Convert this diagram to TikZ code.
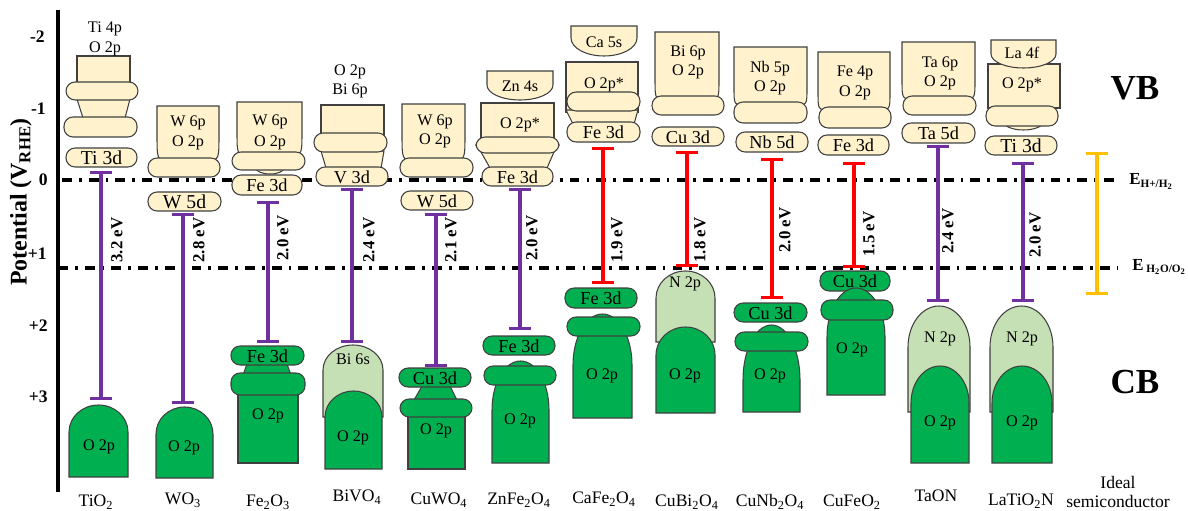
\documentclass[tikz,border=0pt]{standalone}
\usepackage{fontspec}
\setmainfont{Liberation Serif}
\usetikzlibrary{arrows.meta}

\definecolor{vbfill}{RGB}{255,242,204}
\definecolor{cbfill}{RGB}{0,176,80}
\definecolor{cblight}{RGB}{197,224,180}
\definecolor{bandline}{RGB}{64,64,64}
\definecolor{gapviolet}{RGB}{112,48,160}
\definecolor{gapred}{RGB}{255,0,0}
\definecolor{gapgold}{RGB}{255,192,0}

% style, x1, x2, ytop, yside, ybot, inset
\newcommand{\bandcup}[7]{\draw[#1] (#2,#4) -- (#3,#4) -- (#3,#5) .. controls (#3,#6) .. ({#3-#7},#6) -- ({#2+#7},#6) .. controls (#2,#6) .. (#2,#5) -- cycle;}
% style, x1, x2, ytop, yside, ybot
\newcommand{\bandbowl}[6]{\draw[#1] (#2,#4) -- (#3,#4) -- (#3,#5) .. controls (#3,{#5+0.552*(#6-#5)}) and ({(#2+#3)/2+0.276*(#3-#2)},#6) .. ({(#2+#3)/2},#6) .. controls ({(#2+#3)/2-0.276*(#3-#2)},#6) and (#2,{#5+0.552*(#6-#5)}) .. (#2,#5) -- cycle;}
% style, x1, x2, yapex, yside, ybot
\newcommand{\banddome}[6]{\draw[#1] (#2,#6) -- (#2,#5) .. controls (#2,{#5-0.552*(#5-#4)}) and ({(#2+#3)/2-0.276*(#3-#2)},#4) .. ({(#2+#3)/2},#4) .. controls ({(#2+#3)/2+0.276*(#3-#2)},#4) and (#3,{#5-0.552*(#5-#4)}) .. (#3,#5) -- (#3,#6) -- cycle;}

\begin{document}
\begin{tikzpicture}[x=0.025cm,y=-0.025cm,
    band/.style={draw=bandline, line width=0.75pt},
    vb/.style={band, fill=vbfill},
    cb/.style={band, fill=cbfill},
    cbl/.style={band, fill=cblight},
    pill/.style={rounded corners=6.5pt},
    lbl/.style={inner sep=0pt, font=\fontsize{11.5}{12}\selectfont},
    dlbl/.style={inner sep=0pt, font=\fontsize{13}{14}\selectfont},
    level/.style={line width=2.6pt, dash pattern=on 7pt off 5pt on 2pt off 5pt},
    gapbar/.style={line width=2.4pt, arrows={Bar[width=15pt]-Bar[width=15pt]}},
    egap/.style={inner sep=0pt, rotate=90, font=\bfseries\fontsize{12}{12}\selectfont},
    tick/.style={anchor=east, inner sep=0pt, font=\bfseries\fontsize{12.5}{12}\selectfont},
    mat/.style={inner sep=0pt, font=\fontsize{12.5}{14}\selectfont}]
\useasboundingbox (0,0) rectangle (1188,511);

% axis and water levels
\draw[line width=2.4pt] (58,10) -- (58,492);
\node[rotate=90, inner sep=0pt, font=\bfseries\fontsize{17}{17}\selectfont] (axis) at (21,202) {Potential (V\textsubscript{RHE})};
\node[tick] (m2) at (45,37) {-2};
\node[tick] (m1) at (46,109) {-1};
\node[tick] (z0) at (48,180) {0};
\node[tick] (p1) at (47,254) {+1};
\node[tick] (p2) at (48,326) {+2};
\node[tick] (p3) at (48,397) {+3};
\coordinate (hl) at (62,180);
\coordinate (hr) at (1117,180);
\coordinate (ol) at (58,268);
\coordinate (or) at (1117,268);
\draw[level] (hl) -- (hr);
\draw[level] (ol) -- (or);
\node[anchor=base west, inner sep=0pt, font=\bfseries\fontsize{12}{12}\selectfont] (eh) at (1129,185) {E\textsubscript{H+/H\textsubscript{2}}};
\node[anchor=base west, inner sep=0pt, font=\bfseries\fontsize{12}{12}\selectfont] (eo) at (1132,270) {E\,\textsubscript{H\textsubscript{2}O/O\textsubscript{2}}};
\node[inner sep=0pt, font=\bfseries\fontsize{25}{25}\selectfont] (vb) at (1135,88) {VB};
\node[inner sep=0pt, font=\bfseries\fontsize{25}{25}\selectfont] (cb) at (1135,382) {CB};

% TiO2
\draw[vb] (77,56) rectangle (130,84);
\draw[vb] (77,99) -- (130,99) -- (125,118) -- (83,118) -- cycle;
\draw[vb,pill] (66,82) rectangle (138,100);
\draw[vb,pill] (64,117) rectangle (137,137);
\draw[vb,pill] (66,148) rectangle (137,167);
\node[lbl] (tio2-4p) at (105,29) {Ti 4p};
\node[lbl] (tio2-2p) at (105,49) {O 2p};
\node[dlbl, font=\fontsize{14}{14}\selectfont] (tio2-3d) at (101.5,158) {Ti 3d};
\banddome{cb}{69}{128}{405}{432}{477}
\node[lbl] (tio2-o) at (99,447) {O 2p};

% WO3
\bandcup{vb}{157}{219}{106}{133}{160}{11}
\node[lbl] (wo3-6p) at (188,123) {W 6p};
\node[lbl] (wo3-2p) at (188,143) {O 2p};
\draw[vb,pill] (148,158) rectangle (220,177);
\draw[vb,pill] (148,192) rectangle (221,211);
\node[dlbl, font=\fontsize{14}{14}\selectfont] (wo3-5d) at (184.5,202) {W 5d};
\banddome{cb}{156}{213}{407}{434}{478}
\node[lbl] (wo3-o) at (184,448) {O 2p};

% Fe2O3
\bandcup{vb}{237}{302}{102}{130}{155}{11}
\node[lbl] (fe2o3-6p) at (270,122) {W 6p};
\node[lbl] (fe2o3-2p) at (270,143) {O 2p};
\bandbowl{vb}{256}{284}{166}{168}{174}
\draw[vb,pill] (232,152) rectangle (305,170);
\draw[vb,pill] (232,175) rectangle (302,195);
\node[dlbl] (fe2o3-3d) at (267,185.5) {Fe 3d};
\draw[cb] (238,393) rectangle (298,463);
\draw[cb] (247,364) -- (287,364) -- (291,375) -- (243,375) -- cycle;
\draw[cb,pill] (231,373) rectangle (305,395);
\draw[cb,pill] (231,346) rectangle (304,365);
\node[dlbl] (fe2o3-cb3d) at (267.5,356) {Fe 3d};
\node[lbl] (fe2o3-o) at (268,416) {O 2p};

% BiVO4
\node[lbl] (bivo4-2p) at (350,72) {O 2p};
\node[lbl] (bivo4-6p) at (350,91) {Bi 6p};
\draw[vb] (321,105) rectangle (384,135);
\draw[vb] (321,151) -- (384,151) -- (381,168) -- (326,168) -- cycle;
\draw[vb,pill] (314,133) rectangle (387,152);
\draw[vb,pill] (316,167) rectangle (388,186);
\node[dlbl] (bivo4-3d) at (352,177) {V 3d};
\banddome{cbl}{323}{383}{345}{370}{417}
\node[lbl] (bivo4-6s) at (353,359) {Bi 6s};
\banddome{cb}{325}{382}{391}{417}{469}
\node[lbl] (bivo4-o) at (353,438) {O 2p};

% CuWO4
\bandcup{vb}{402}{465}{104}{133}{160}{12}
\node[lbl] (cuwo4-6p) at (435,122) {W 6p};
\node[lbl] (cuwo4-2p) at (435,141) {O 2p};
\draw[vb,pill] (400,158) rectangle (473,177);
\draw[vb,pill] (401,191) rectangle (473,210);
\node[dlbl] (cuwo4-5d) at (437,201) {W 5d};
\draw[cb] (408,415) rectangle (465,469);
\draw[cb] (422,386) -- (450,386) -- (457,400) -- (414,400) -- cycle;
\draw[cb,pill] (400,399) rectangle (472,417);
\draw[cb,pill] (399,368) rectangle (471,387);
\node[dlbl] (cuwo4-3d) at (435,378) {Cu 3d};
\node[lbl] (cuwo4-o) at (436,431) {O 2p};

% ZnFe2O4
\bandbowl{vb}{487}{553}{71}{85}{100}
\node[lbl] (znfe-4s) at (520,86) {Zn 4s};
\draw[vb] (481,103) rectangle (554,139);
\node[lbl] (znfe-2p) at (520,125) {O 2p*};
\draw[vb] (481,152) -- (554,152) -- (547,168) -- (490,168) -- cycle;
\draw[vb,pill] (476,137) rectangle (559,153);
\draw[vb,pill] (482,167) rectangle (553,186);
\node[dlbl] (znfe-3d) at (517.5,177) {Fe 3d};
\banddome{cb}{492}{549}{361}{410}{463}
\draw[cb,pill] (484,366) rectangle (556,385);
\draw[cb,pill] (483,336) rectangle (555,355);
\node[dlbl] (znfe-cb3d) at (519,346) {Fe 3d};
\node[lbl] (znfe-o) at (520,421) {O 2p};

% CaFe2O4
\bandbowl{vb}{571}{637}{26}{38}{56}
\node[lbl] (cafe-5s) at (604,42) {Ca 5s};
\draw[vb] (566,62) rectangle (638,112);
\node[lbl] (cafe-2p) at (604,85) {O 2p*};
\draw[vb] (566,110) -- (638,110) -- (634,124) -- (573,124) -- cycle;
\draw[vb,pill] (567,92) rectangle (640,111);
\draw[vb,pill] (567,122) rectangle (640,142);
\node[dlbl] (cafe-3d) at (603.5,132.5) {Fe 3d};
\draw[cb,pill] (565,288) rectangle (637,308);
\node[dlbl] (cafe-cb3d) at (601,298.5) {Fe 3d};
\banddome{cb}{573}{632}{314}{365}{418}
\draw[cb,pill] (567,317) rectangle (640,336);
\node[lbl] (cafe-o) at (602,376) {O 2p};

% CuBi2O4
\bandcup{vb}{655}{719}{32}{78}{100}{12}
\node[lbl] (cubi-6p) at (688,53) {Bi 6p};
\node[lbl] (cubi-2p) at (688,72) {O 2p};
\draw[vb,pill] (652,96) rectangle (724,115);
\draw[vb,pill] (652,127) rectangle (724,146);
\node[dlbl] (cubi-3d) at (688,137) {Cu 3d};
\banddome{cbl}{656}{715}{271}{298}{342}
\node[lbl] (cubi-n) at (685,284) {N 2p};
\banddome{cb}{656}{715}{327}{355}{413}
\node[lbl] (cubi-o) at (685,376) {O 2p};

% CuNb2O4
\bandcup{vb}{734}{807}{47}{88}{105}{12}
\node[lbl] (cunb-5p) at (770,69) {Nb 5p};
\node[lbl] (cunb-2p) at (770,88) {O 2p};
\draw[vb,pill] (734,102) rectangle (807,123);
\draw[vb,pill] (736,132) rectangle (808,152);
\node[dlbl] (cunb-5d) at (772,142.5) {Nb 5d};
\draw[cb,pill] (734,303) rectangle (807,322);
\node[dlbl] (cunb-3d) at (770.5,313) {Cu 3d};
\banddome{cb}{743}{800}{325}{380}{412}
\draw[cb,pill] (735,332) rectangle (808,351);
\node[lbl] (cunb-o) at (770,376) {O 2p};

% CuFeO2
\bandcup{vb}{818}{890}{52}{92}{110}{12}
\node[lbl] (cufe-4p) at (855,73) {Fe 4p};
\node[lbl] (cufe-2p) at (855,93) {O 2p};
\draw[vb,pill] (819,107) rectangle (891,128);
\draw[vb,pill] (818,135) rectangle (889,155);
\node[dlbl] (cufe-3d) at (853.5,145.5) {Fe 3d};
\draw[cb,pill] (820,271) rectangle (890,291);
\node[dlbl] (cufe-cb3d) at (855,281.5) {Cu 3d};
\banddome{cb}{827}{885}{288}{337}{395}
\draw[cb,pill] (821,300) rectangle (893,320);
\node[lbl] (cufe-o) at (852,350) {O 2p};

% TaON
\bandcup{vb}{902}{975}{42}{80}{99}{12}
\node[lbl] (taon-6p) at (940,64) {Ta 6p};
\node[lbl] (taon-2p) at (940,83) {O 2p};
\draw[vb,pill] (903,96) rectangle (976,115);
\draw[vb,pill] (902,123) rectangle (975,143);
\node[dlbl] (taon-5d) at (938.5,133.5) {Ta 5d};
\banddome{cbl}{908}{970}{306}{347}{412}
\node[lbl] (taon-n) at (940,339) {N 2p};
\banddome{cb}{911}{969}{366}{403}{463}
\node[lbl] (taon-o) at (940,423) {O 2p};

% LaTiO2N
\draw[vb] (988,64) rectangle (1060,108);
\bandbowl{vb}{991}{1056}{40}{54}{68}
\node[lbl] (lato-4f) at (1022,53) {La 4f};
\node[lbl] (lato-2p) at (1022,85) {O 2p*};
\bandbowl{vb}{1004}{1043}{120}{122}{130}
\draw[vb,pill] (986,106) rectangle (1058,126);
\draw[vb,pill] (985,136) rectangle (1057,155);
\node[dlbl, font=\fontsize{14}{14}\selectfont] (lato-3d) at (1021,146) {Ti 3d};
\banddome{cbl}{990}{1053}{306}{347}{412}
\node[lbl] (lato-n) at (1022,339) {N 2p};
\banddome{cb}{992}{1052}{366}{403}{463}
\node[lbl] (lato-o) at (1022,423) {O 2p};

% band gaps
\coordinate (g1t) at (101,171);  \coordinate (g1b) at (101,400);
\coordinate (g2t) at (183,213);  \coordinate (g2b) at (183,404);
\coordinate (g3t) at (268,201);  \coordinate (g3b) at (268,343);
\coordinate (g4t) at (352,188);  \coordinate (g4b) at (352,343);
\coordinate (g5t) at (436,213);  \coordinate (g5b) at (436,367);
\coordinate (g6t) at (520,188);  \coordinate (g6b) at (520,330);
\coordinate (g7t) at (603,147);  \coordinate (g7b) at (603,284);
\coordinate (g8t) at (687,151);  \coordinate (g8b) at (687,267);
\coordinate (g9t) at (772,158);  \coordinate (g9b) at (772,299);
\coordinate (g10t) at (854,162); \coordinate (g10b) at (854,268);
\coordinate (g11t) at (938,145); \coordinate (g11b) at (938,302);
\coordinate (g12t) at (1023,162); \coordinate (g12b) at (1023,302);
\coordinate (g13t) at (1097,152); \coordinate (g13b) at (1097,295);
\draw[gapbar, gapviolet] (g1t) -- (g1b);
\draw[gapbar, gapviolet] (g2t) -- (g2b);
\draw[gapbar, gapviolet] (g3t) -- (g3b);
\draw[gapbar, gapviolet] (g4t) -- (g4b);
\draw[gapbar, gapviolet] (g5t) -- (g5b);
\draw[gapbar, gapviolet] (g6t) -- (g6b);
\draw[gapbar, gapred] (g7t) -- (g7b);
\draw[gapbar, gapred] (g8t) -- (g8b);
\draw[gapbar, gapred] (g9t) -- (g9b);
\draw[gapbar, gapred] (g10t) -- (g10b);
\draw[gapbar, gapviolet] (g11t) -- (g11b);
\draw[gapbar, gapviolet] (g12t) -- (g12b);
\draw[gapbar, gapgold] (g13t) -- (g13b);
\node[egap] (e1) at (117,240) {3.2 eV};
\node[egap] (e2) at (199,240) {2.8 eV};
\node[egap] (e3) at (283,238) {2.0 eV};
\node[egap] (e4) at (369,240) {2.4 eV};
\node[egap] (e5) at (451,240) {2.1 eV};
\node[egap] (e6) at (532,238) {2.0 eV};
\node[egap] (e7) at (617,240) {1.9 eV};
\node[egap] (e8) at (700,240) {1.8 eV};
\node[egap] (e9) at (785,230) {2.0 eV};
\node[egap] (e10) at (869,234) {1.5 eV};
\node[egap] (e11) at (948,231) {2.4 eV};
\node[egap] (e12) at (1035,235) {2.0 eV};

% materials
\node[mat] (tio2) at (96,502) {TiO\textsubscript{2}};
\node[mat] (wo3) at (183,500) {WO\textsubscript{3}};
\node[mat] (fe2o3) at (268,502) {Fe\textsubscript{2}O\textsubscript{3}};
\node[mat] (bivo4) at (357,497) {BiVO\textsubscript{4}};
\node[mat] (cuwo4) at (439,500) {CuWO\textsubscript{4}};
\node[mat] (znfe2o4) at (519,500) {ZnFe\textsubscript{2}O\textsubscript{4}};
\node[mat] (cafe2o4) at (604,499) {CaFe\textsubscript{2}O\textsubscript{4}};
\node[mat] (cubi2o4) at (687,502) {CuBi\textsubscript{2}O\textsubscript{4}};
\node[mat] (cunb2o4) at (770,502) {CuNb\textsubscript{2}O\textsubscript{4}};
\node[mat] (cufeo2) at (852,502) {CuFeO\textsubscript{2}};
\node[mat] (taon) at (936,496) {TaON};
\node[mat] (latio2n) at (1021,501) {LaTiO\textsubscript{2}N};
\node[mat, align=center] (ideal) at (1118,492) {Ideal\\semiconductor};
\end{tikzpicture}
\end{document}
